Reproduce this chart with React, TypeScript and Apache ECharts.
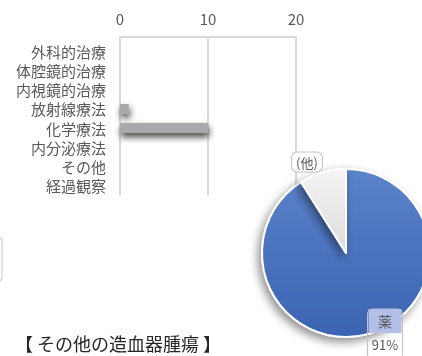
import React, { useEffect, useRef } from "react";
import * as echarts from "echarts";

const categories = ["外科的治療", "体腔鏡的治療", "内視鏡的治療", "放射線療法", "化学療法", "内分泌療法", "その他", "経過観察"];
const barValues = [0, 0, 0, 1, 10, 0, 0, 0];
const xTicks = { min: 0, max: 20, interval: 10 };
const pieNames = ["薬", "(他)"];
const pieValues = [91, 9];
const title = "【 その他の造血器腫瘍 】";

const FONT = "'Noto Sans CJK JP', 'Noto Sans', sans-serif";

export default function App() {
  const ref = useRef<HTMLDivElement>(null);
  useEffect(() => {
    if (!ref.current) return;
    const chart = echarts.init(ref.current, null, { renderer: "svg" });
    const pieColors = [
      new echarts.graphic.LinearGradient(0, 0, 0, 1, [
        { offset: 0, color: "#5b83c9" },
        { offset: 1, color: "#3b63b3" },
      ]),
      new echarts.graphic.LinearGradient(0, 0, 0, 1, [
        { offset: 0, color: "#f4f4f4" },
        { offset: 1, color: "#dcdcdc" },
      ]),
    ];
    chart.setOption({
      animation: false,
      textStyle: { fontFamily: FONT },
      grid: { left: 120, top: 42, width: 176, height: 153, containLabel: false },
      xAxis: {
        type: "value",
        position: "top",
        offset: 5,
        min: xTicks.min,
        max: xTicks.max,
        interval: xTicks.interval,
        axisLine: { show: true, lineStyle: { color: "#d9d9d9", width: 2 } },
        axisTick: { show: true, inside: true, length: 5, lineStyle: { color: "#d9d9d9", width: 2 } },
        axisLabel: { color: "#595959", fontSize: 15, margin: 11, fontFamily: FONT },
        splitLine: { show: true, lineStyle: { color: "#d9d9d9", width: 2 } },
      },
      yAxis: {
        type: "category",
        inverse: true,
        data: categories,
        axisLine: { show: false },
        axisTick: { show: false },
        axisLabel: {
          color: "#595959",
          fontSize: 15,
          lineHeight: 18,
          margin: 14,
          interval: 0,
          hideOverlap: false,
          fontFamily: FONT,
        },
      },
      series: [
        {
          type: "bar",
          data: barValues,
          barWidth: 10,
          itemStyle: {
            color: "#a8a9ab",
            shadowBlur: 7,
            shadowOffsetY: 4,
            shadowOffsetX: 1,
            shadowColor: "rgba(0,0,0,0.75)",
          },
        },
        {
          type: "pie",
          center: [346, 253],
          radius: 84,
          startAngle: 90,
          clockwise: true,
          data: pieNames.map((n, i) => ({
            name: n,
            value: pieValues[i],
            itemStyle: { color: pieColors[i] },
          })),
          itemStyle: {
            borderColor: "#ffffff",
            borderWidth: 2,
            shadowBlur: 10,
            shadowOffsetX: -3,
            shadowOffsetY: 4,
            shadowColor: "rgba(0,0,0,0.45)",
          },
          labelLine: { show: false },
          label: {
            show: true,
            position: "inside",
            fontFamily: FONT,
            color: "#595959",
            fontSize: 13,
          },
          labelLayout: (p: any) => {
            if (p.dataIndex === 1) {
              return { x: 307, y: 162, align: "center", verticalAlign: "middle" };
            }
            return { x: 385, y: 334, align: "center", verticalAlign: "middle" };
          },
          emphasis: { disabled: true },
        },
      ],
      graphic: [
        {
          type: "rect",
          shape: { x: -40, y: 237, width: 42, height: 45, r: 4 },
          style: { fill: "none", stroke: "#c8c8c8", lineWidth: 1 },
        },
        {
          type: "text",
          x: 15,
          y: 343,
          style: {
            text: title,
            fontSize: 18,
            fill: "#262626",
            fontFamily: FONT,
            verticalAlign: "middle",
          },
        },
      ],
    });
    const opt: any = chart.getOption();
    const pieSeries = (opt.series as any[])[1];
    pieSeries.data = pieSeries.data.map((d: any, i: number) => ({
      ...d,
      label:
        i === 0
          ? {
              formatter: "{n|{b}}\n{p|{d}%}",
              borderColor: "#c0c0c0",
              borderWidth: 1,
              borderRadius: 5,
              padding: [0, 1, 4, 1],
              rich: {
                n: { backgroundColor: "#b3bfe6", color: "#595959", fontSize: 14, width: 33, align: "center", lineHeight: 24, height: 24, fontFamily: FONT },
                p: { color: "#595959", fontSize: 13, lineHeight: 22, fontFamily: FONT },
              },
            }
          : {
              formatter: "{b}",
              borderColor: "#c0c0c0",
              borderWidth: 1,
              borderRadius: 5,
              backgroundColor: "#ffffff",
              padding: [3, 4, 3, 4],
              fontSize: 13,
            },
    }));
    chart.setOption({ series: opt.series });
    return () => chart.dispose();
  }, []);
  return <div ref={ref} style={{ position: "fixed", left: 0, top: 0, width: 422, height: 356 }} />;
}
